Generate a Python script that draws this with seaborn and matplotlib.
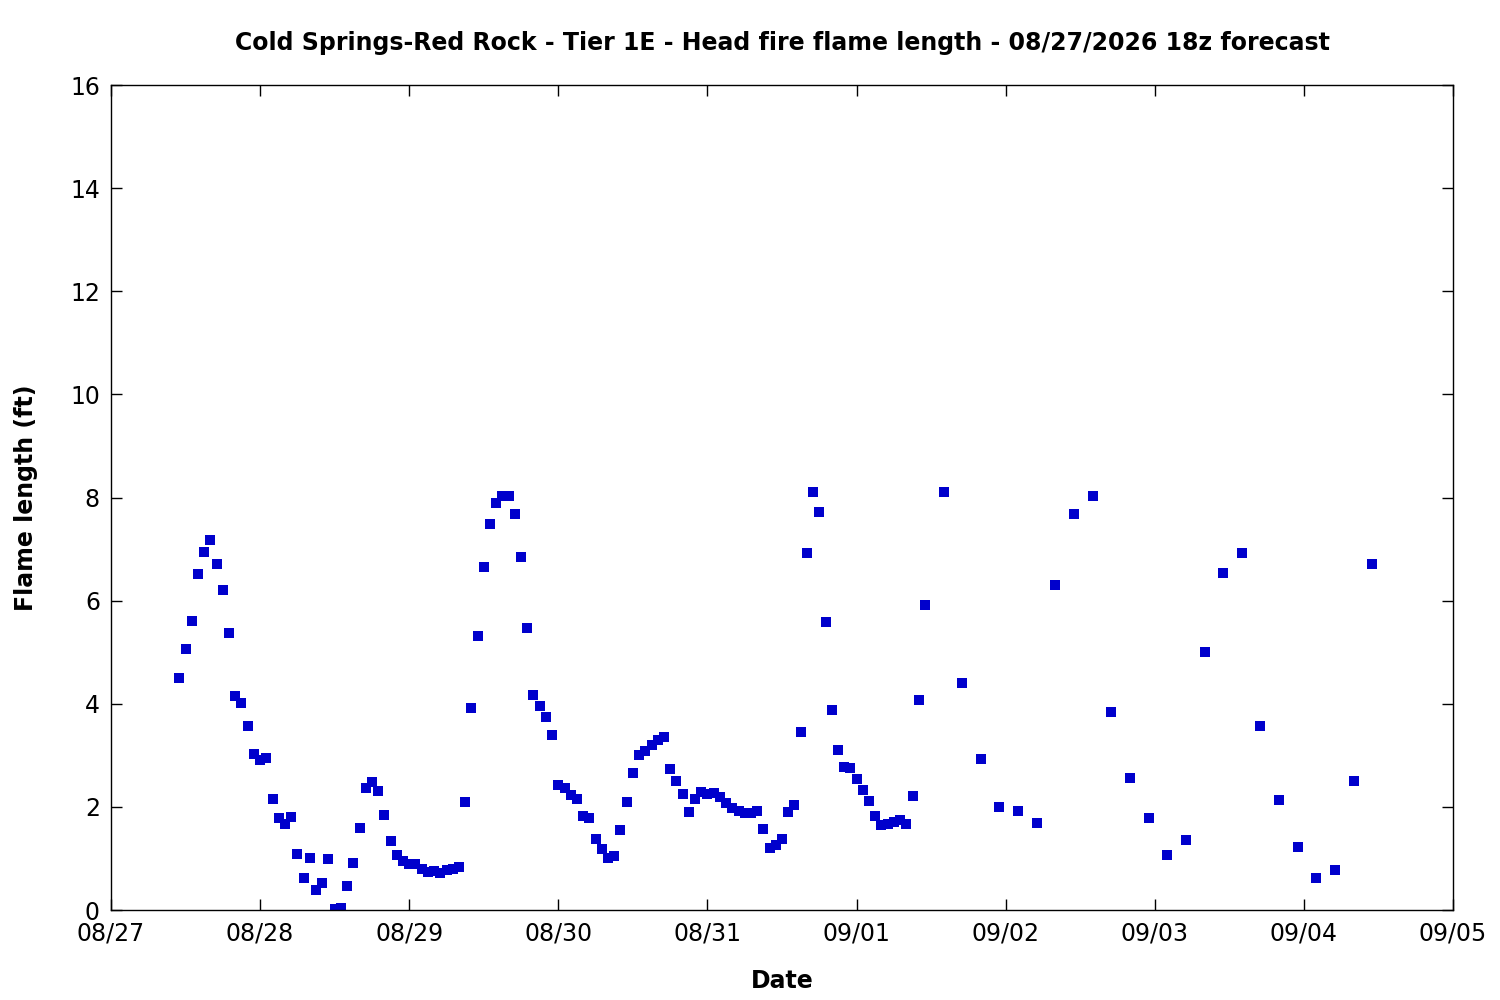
import pandas as pd
import seaborn as sns
import matplotlib.pyplot as plt
import matplotlib.dates as mdates

sns.set_style('ticks')
plt.rcParams['font.family'] = ['DejaVu Sans']
plt.rcParams['text.color'] = 'black'
plt.rcParams['axes.labelcolor'] = 'black'

# Forecast values (ft)
# hourly from 08/27 11:00 to 09/01 11:00
hourly_start = '2026-08-27 11:00'
flame_hourly = [
    4.50, 5.06, 5.60, 6.52, 6.94, 7.18, 6.71, 6.21, 5.37, 4.15,
    4.01, 3.57, 3.03, 2.91, 2.95, 2.15, 1.78, 1.67, 1.80, 1.09,
    0.62, 1.01, 0.39, 0.52, 0.99, 0.02, 0.04, 0.47, 0.91, 1.59,
    2.37, 2.48, 2.31, 1.84, 1.34, 1.07, 0.95, 0.89, 0.89, 0.80,
    0.74, 0.76, 0.72, 0.78, 0.80, 0.83, 2.09, 3.92, 5.31, 6.65,
    7.49, 7.89, 8.03, 8.03, 7.68, 6.85, 5.47, 4.17, 3.96, 3.74,
    3.39, 2.42, 2.37, 2.23, 2.15, 1.82, 1.78, 1.38, 1.18, 1.01,
    1.05, 1.55, 2.09, 2.66, 3.01, 3.08, 3.20, 3.30, 3.36, 2.73,
    2.50, 2.25, 1.90, 2.15, 2.29, 2.25, 2.27, 2.19, 2.08, 1.98,
    1.92, 1.88, 1.88, 1.92, 1.57, 1.20, 1.26, 1.38, 1.90, 2.04,
    3.45, 6.92, 8.11, 7.72, 5.59, 3.88, 3.10, 2.77, 2.75, 2.54,
    2.33, 2.11, 1.82, 1.65, 1.67, 1.71, 1.75, 1.67, 2.21, 4.07,
    5.92,
]
# 3-hourly from 09/01 14:00 to 09/04 11:00
three_hourly_start = '2026-09-01 14:00'
flame_3h = [
    8.11, 4.40, 2.93, 2.00, 1.92, 1.69, 6.30, 7.68, 8.03, 3.84,
    2.56, 1.78, 1.07, 1.36, 5.00, 6.54, 6.92, 3.57, 2.13, 1.22,
    0.62, 0.78, 2.50, 6.71,
]

times = list(pd.date_range(hourly_start, periods=len(flame_hourly), freq='h')) + \
    list(pd.date_range(three_hourly_start, periods=len(flame_3h), freq='3h'))
df = pd.DataFrame({'time': times, 'flame': flame_hourly + flame_3h})

fig = plt.figure(figsize=(15, 10), dpi=100)
ax = fig.add_axes([0.074, 0.09, 0.8947, 0.825])

sns.scatterplot(data=df, x='time', y='flame', marker='s', s=44,
                color='#0000cc', linewidth=0, ax=ax)

ax.set_xlim(pd.Timestamp('2026-08-27'), pd.Timestamp('2026-09-05'))
ax.set_ylim(0, 16)
ax.set_yticks(range(0, 17, 2))
ax.xaxis.set_major_locator(mdates.DayLocator())
ax.xaxis.set_major_formatter(mdates.DateFormatter('%m/%d'))

ax.tick_params(direction='in', length=8, width=1, labelsize=17,
               top=True, right=True, pad=8, colors='black')
for sp in ax.spines.values():
    sp.set_linewidth(1)
    sp.set_color('black')

ax.set_xlabel('Date', fontsize=17, fontweight='bold')
ax.set_ylabel('Flame length (ft)', fontsize=17, fontweight='bold')
ax.xaxis.set_label_coords(0.5, -0.0715)
ax.yaxis.set_label_coords(-0.0544, 0.5)
ax.set_title('Cold Springs-Red Rock - Tier 1E - Head fire flame length - 08/27/2026 18z forecast',
             fontsize=17, fontweight='bold', y=1.051, va='center', pad=0)

plt.savefig('out.png', dpi=100)
plt.close()
